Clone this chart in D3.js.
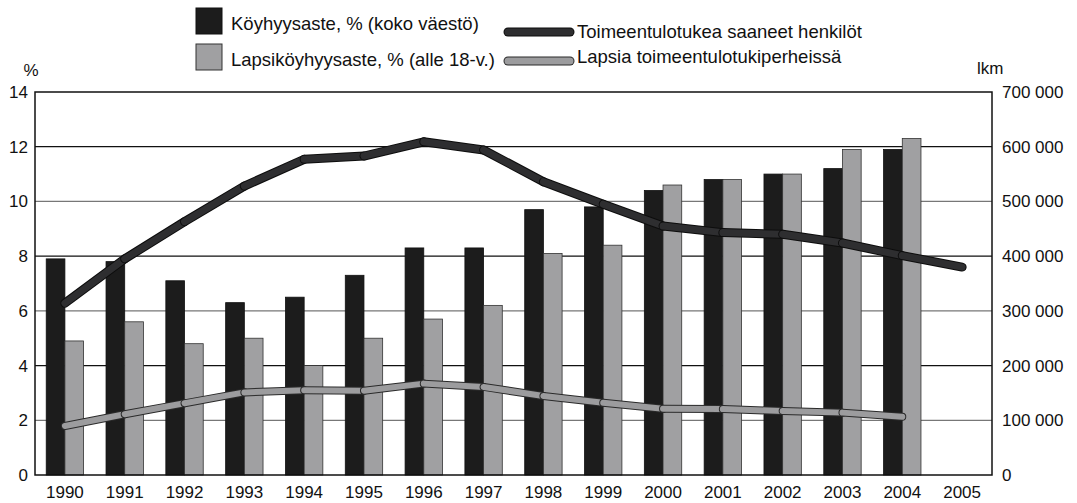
<!DOCTYPE html>
<html>
<head>
<meta charset="utf-8">
<script src="https://cdn.jsdelivr.net/npm/d3@7"></script>
<style>
  body { margin: 0; background: #fff; }
  svg text { font-family: "Liberation Sans", Arial, sans-serif; fill: #111; }
</style>
</head>
<body>
<svg id="chart"></svg>
<script>
// data
const years = [1990, 1991, 1992, 1993, 1994, 1995, 1996, 1997, 1998, 1999, 2000, 2001, 2002, 2003, 2004, 2005];
const povertyRate = [7.9, 7.8, 7.1, 6.3, 6.5, 7.3, 8.3, 8.3, 9.7, 9.8, 10.4, 10.8, 11.0, 11.2, 11.9, null];
const childPovertyRate = [4.9, 5.6, 4.8, 5.0, 4.0, 5.0, 5.7, 6.2, 8.1, 8.4, 10.6, 10.8, 11.0, 11.9, 12.3, null];
const recipients = [314000, 395000, 463000, 528000, 577000, 583000, 609000, 594000, 536000, 495000, 455000, 443000, 440000, 424000, 401000, 380000];
const childrenInFamilies = [89600, 111000, 131000, 151000, 155000, 154000, 167000, 161000, 144500, 132000, 121000, 120500, 117000, 114000, 106500, null];
const leftTicks = [0, 2, 4, 6, 8, 10, 12, 14];
const rightTicks = [0, 100000, 200000, 300000, 400000, 500000, 600000, 700000];

const width = 1077, height = 503;
const margin = { top: 92, right: 85, bottom: 28, left: 35 };

const svg = d3.select("#chart")
    .attr("width", width)
    .attr("height", height);

// scales
const x = d3.scaleBand().domain(years).range([margin.left, width - margin.right]).paddingInner(0).paddingOuter(0);
const yL = d3.scaleLinear().domain([0, 14]).range([height - margin.bottom, margin.top]);
const yR = d3.scaleLinear().domain([0, 700000]).range([height - margin.bottom, margin.top]);
const barW = x.bandwidth() * 0.3125;

// grid (alternating black / grey like the original)
svg.append("g").selectAll("line")
    .data(leftTicks.filter(d => d > 0 && d < 14))
    .join("line")
    .attr("x1", margin.left).attr("x2", width - margin.right)
    .attr("y1", d => yL(d)).attr("y2", d => yL(d))
    .attr("stroke", d => (d % 4 === 0) ? "#111" : "#777")
    .attr("stroke-width", 1.3);

// bars
const bars = svg.append("g");
bars.selectAll(".b1")
    .data(years.map((yr, i) => ({ yr, v: povertyRate[i] })).filter(d => d.v != null))
    .join("rect")
    .attr("x", d => x(d.yr) + x.bandwidth() / 2 - barW)
    .attr("y", d => yL(d.v))
    .attr("width", barW)
    .attr("height", d => yL(0) - yL(d.v))
    .attr("fill", "#1c1c1c")
    .attr("stroke", "#111")
    .attr("stroke-width", 0.8);

bars.selectAll(".b2")
    .data(years.map((yr, i) => ({ yr, v: childPovertyRate[i] })).filter(d => d.v != null))
    .join("rect")
    .attr("x", d => x(d.yr) + x.bandwidth() / 2)
    .attr("y", d => yL(d.v))
    .attr("width", barW)
    .attr("height", d => yL(0) - yL(d.v))
    .attr("fill", "#a0a0a2")
    .attr("stroke", "#333")
    .attr("stroke-width", 0.8);

// frame
svg.append("rect")
    .attr("x", margin.left).attr("y", margin.top)
    .attr("width", width - margin.left - margin.right)
    .attr("height", height - margin.top - margin.bottom)
    .attr("fill", "none").attr("stroke", "#111").attr("stroke-width", 1.5);

// tube-like line: each segment drawn with its own outline, like the original
function drawTube(values, color, edge, w) {
    const pts = years.map((yr, i) => ({ yr, v: values[i] })).filter(d => d.v != null);
    const g = svg.append("g");
    const line = d3.line().x(d => x(d.yr) + x.bandwidth() / 2).y(d => yR(d.v));
    for (let i = 0; i < pts.length - 1; i++) {
        const seg = [pts[i], pts[i + 1]];
        g.append("path").attr("d", line(seg)).attr("fill", "none")
            .attr("stroke", edge).attr("stroke-width", w + 2).attr("stroke-linecap", "round");
        g.append("path").attr("d", line(seg)).attr("fill", "none")
            .attr("stroke", color).attr("stroke-width", w).attr("stroke-linecap", "round");
    }
}
drawTube(childrenInFamilies, "#9c9c9e", "#2a2a2a", 6);
drawTube(recipients, "#2e2e30", "#0d0d0d", 7);

// axes
const fmt = d => d3.format(",")(d).replace(/,/g, " ");

const axL = svg.append("g")
    .attr("transform", `translate(${margin.left},0)`)
    .call(d3.axisLeft(yL).tickValues(leftTicks).tickSize(0).tickPadding(7));
const axR = svg.append("g")
    .attr("transform", `translate(${width - margin.right},0)`)
    .call(d3.axisRight(yR).tickValues(rightTicks).tickSize(0).tickPadding(10).tickFormat(fmt));
const axB = svg.append("g")
    .attr("transform", `translate(0,${height - margin.bottom})`)
    .call(d3.axisBottom(x).tickSize(0).tickPadding(11));

[axL, axR, axB].forEach(a => {
    a.select(".domain").remove();
    a.selectAll("text").style("font-size", "17px").attr("fill", "#111")
        .style("font-family", "'Liberation Sans', Arial, sans-serif");
});

svg.append("text").attr("x", 31).attr("y", 76).attr("text-anchor", "middle")
    .style("font-size", "17px").text("%");
svg.append("text").attr("x", 977).attr("y", 74)
    .style("font-size", "17px").text("lkm");

// legend
const legend = svg.append("g");
const lg = [
    { label: "Köyhyysaste, % (koko väestö)", fill: "#1c1c1c", stroke: "#111", y: 8 },
    { label: "Lapsiköyhyysaste, % (alle 18-v.)", fill: "#a0a0a2", stroke: "#333", y: 44 }
];
lg.forEach(d => {
    legend.append("rect").attr("x", 196).attr("y", d.y).attr("width", 26).attr("height", 26)
        .attr("fill", d.fill).attr("stroke", d.stroke).attr("stroke-width", 1);
    legend.append("text").attr("x", 231).attr("y", d.y + 22)
        .style("font-size", "18.5px").text(d.label);
});
const ll = [
    { label: "Toimeentulotukea saaneet henkilöt", color: "#2e2e30", edge: "#0d0d0d", y: 32, ty: 38 },
    { label: "Lapsia toimeentulotukiperheissä", color: "#9c9c9e", edge: "#2a2a2a", y: 61, ty: 63 }
];
ll.forEach(d => {
    legend.append("line").attr("x1", 508).attr("x2", 570).attr("y1", d.y).attr("y2", d.y)
        .attr("stroke", d.edge).attr("stroke-width", 9).attr("stroke-linecap", "round");
    legend.append("line").attr("x1", 508).attr("x2", 570).attr("y1", d.y).attr("y2", d.y)
        .attr("stroke", d.color).attr("stroke-width", 7).attr("stroke-linecap", "round");
    legend.append("text").attr("x", 577).attr("y", d.ty)
        .style("font-size", "18.5px").text(d.label);
});
</script>
</body>
</html>
